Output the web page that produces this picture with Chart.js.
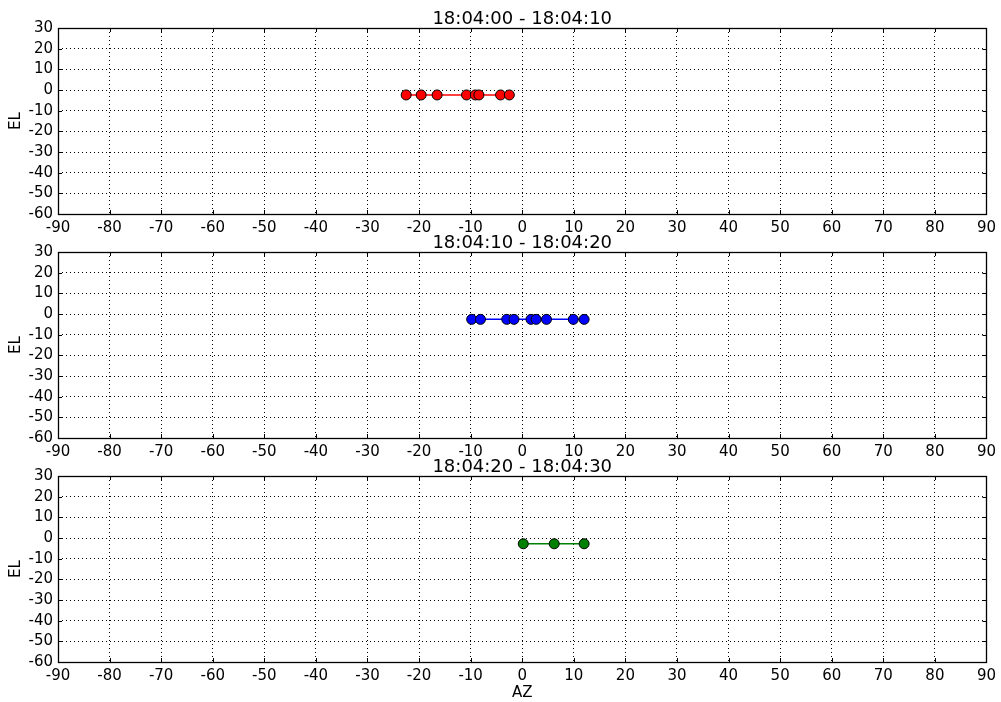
<!DOCTYPE html>
<html>
<head>
<meta charset="utf-8">
<script src="https://cdn.jsdelivr.net/npm/chart.js@4/dist/chart.umd.min.js"></script>
<style>
html,body{margin:0;padding:0;background:#fff;width:1001px;height:702px;overflow:hidden;}
#wrap{position:relative;width:1001px;height:702px;}
canvas{position:absolute;left:0;}
</style>
</head>
<body>
<div id="wrap">
<canvas id="c0" width="1001" height="240" style="top:0px"></canvas>
<canvas id="c1" width="1001" height="240" style="top:224px"></canvas>
<canvas id="c2" width="1001" height="254" style="top:448px"></canvas>
</div>
<script>
// ---- data ----
const panelTitles = ['18:04:00 - 18:04:10', '18:04:10 - 18:04:20', '18:04:20 - 18:04:30'];
const azRed   = [-22.5, -19.6, -16.5, -10.8, -9.1, -8.4, -4.2, -2.5];
const elRed   = [-2.4, -2.4, -2.4, -2.4, -2.4, -2.4, -2.4, -2.4];
const azBlue  = [-9.8, -8.1, -3.0, -1.6, 1.7, 2.7, 4.7, 9.9, 12.0];
const elBlue  = [-2.6, -2.6, -2.6, -2.6, -2.6, -2.6, -2.6, -2.6, -2.6];
const azGreen = [0.2, 6.2, 12.0];
const elGreen = [-2.8, -2.8, -2.8];
const azLimits = [-90, 90];
const elLimits = [-60, 30];
const tickStep = 10;
const xTitle = 'AZ';
const yTitle = 'EL';

const seriesAz = [azRed, azBlue, azGreen];
const seriesEl = [elRed, elBlue, elGreen];
const seriesColor = ['#ff0000', '#0000ff', '#008000'];

const FONT = 'DejaVu Sans';
const PLOT_TOP = 28, PLOT_BOTTOM = 214, PLOT_LEFT = 58, PLOT_RIGHT = 990;

const framePlugin = {
  id: 'frame',
  afterDraw(chart, args, opts) {
    const ctx = chart.ctx;
    const a = chart.chartArea;
    const xs = chart.scales.x, ys = chart.scales.y;
    ctx.save();
    ctx.strokeStyle = '#000';
    ctx.lineWidth = 1;
    ctx.beginPath();
    for (let v = azLimits[0]; v <= azLimits[1]; v += tickStep) {
      const px = Math.round(xs.getPixelForValue(v)) + 0.5;
      ctx.moveTo(px, a.bottom); ctx.lineTo(px, a.bottom - 4);
      ctx.moveTo(px, a.top); ctx.lineTo(px, a.top + 4);
    }
    for (let v = elLimits[0]; v <= elLimits[1]; v += tickStep) {
      const py = Math.round(ys.getPixelForValue(v)) + 0.5;
      ctx.moveTo(a.left, py); ctx.lineTo(a.left + 4, py);
      ctx.moveTo(a.right, py); ctx.lineTo(a.right - 4, py);
    }
    ctx.stroke();
    ctx.lineWidth = 1.3;
    ctx.strokeRect(Math.round(a.left) + 0.5, Math.round(a.top) + 0.5,
                   Math.round(a.right - a.left), Math.round(a.bottom - a.top));
    // panel title
    ctx.fillStyle = '#000';
    ctx.font = '18px "' + FONT + '"';
    ctx.textAlign = 'center';
    ctx.textBaseline = 'alphabetic';
    ctx.fillText(opts.text, (a.left + a.right) / 2, a.top - 4);
    ctx.restore();
  }
};

function makeChart(i) {
  const canvas = document.getElementById('c' + i);
  const H = canvas.height;
  const isLast = i === 2;
  const pts = seriesAz[i].map((x, k) => ({x: x, y: seriesEl[i][k]}));
  return new Chart(canvas, {
    type: 'scatter',
    data: {
      datasets: [{
        data: pts,
        showLine: true,
        borderColor: seriesColor[i],
        borderWidth: 1.5,
        backgroundColor: seriesColor[i],
        pointBackgroundColor: seriesColor[i],
        pointBorderColor: '#000',
        pointBorderWidth: 1,
        pointRadius: 5,
        tension: 0
      }]
    },
    options: {
      responsive: false,
      animation: false,
      devicePixelRatio: 1,
      layout: {padding: {top: PLOT_TOP, right: 1001 - PLOT_RIGHT, left: 0, bottom: 0}},
      plugins: {
        legend: {display: false},
        tooltip: {enabled: false},
        frame: {text: panelTitles[i]}
      },
      scales: {
        x: {
          type: 'linear',
          min: azLimits[0], max: azLimits[1],
          afterFit(s) { s.height = H - PLOT_BOTTOM; },
          ticks: {stepSize: tickStep, autoSkip: false, maxRotation: 0, color: '#000',
                  padding: 5, font: {family: FONT, size: 15}},
          grid: {color: '#000', lineWidth: 1, drawTicks: false},
          border: {display: false, dash: [1, 3]},
          title: {display: isLast, text: xTitle, color: '#000',
                  font: {family: FONT, size: 15}, padding: {top: 0, bottom: 0}}
        },
        y: {
          type: 'linear',
          min: elLimits[0], max: elLimits[1],
          afterFit(s) { s.width = PLOT_LEFT; },
          ticks: {stepSize: tickStep, autoSkip: false, color: '#000',
                  padding: 5, font: {family: FONT, size: 15}},
          grid: {color: '#000', lineWidth: 1, drawTicks: false},
          border: {display: false, dash: [1, 3]},
          title: {display: true, text: yTitle, color: '#000',
                  font: {family: FONT, size: 15}, padding: {top: 7, bottom: 0}}
        }
      }
    },
    plugins: [framePlugin]
  });
}
[0, 1, 2].forEach(makeChart);
</script>
</body>
</html>
